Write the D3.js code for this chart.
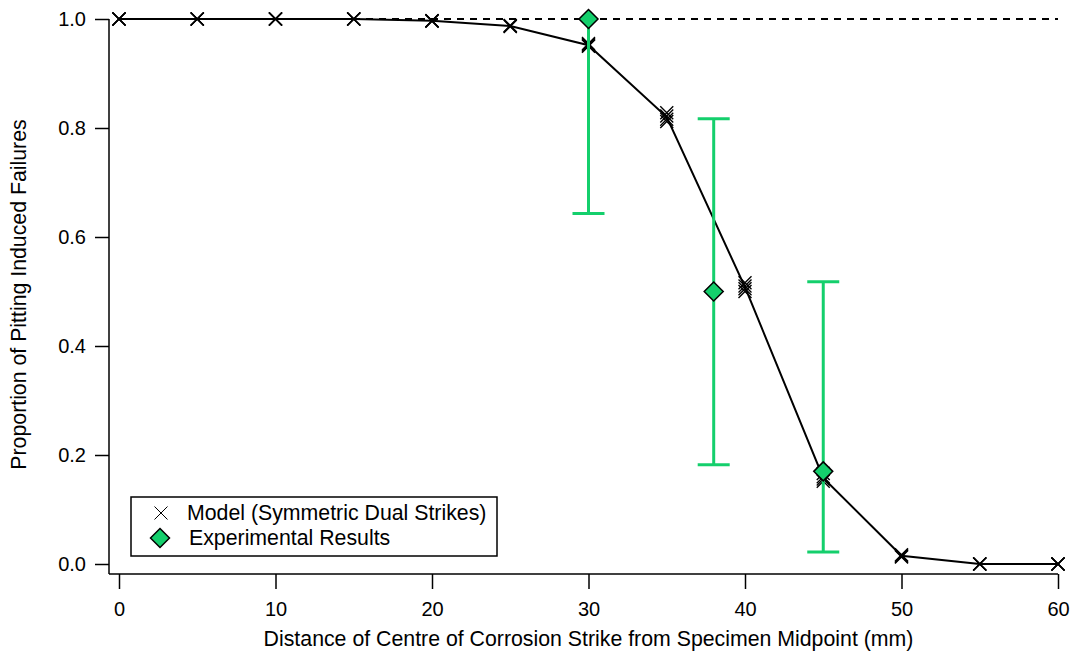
<!DOCTYPE html>
<html>
<head>
<meta charset="utf-8">
<script src="https://cdn.jsdelivr.net/npm/d3@7"></script>
<style>
  body { margin: 0; background: #fff; }
  svg { font-family: "Liberation Sans", Arial, sans-serif; }
</style>
</head>
<body>
<svg id="chart" width="1074" height="653"></svg>
<script>
// Model distances (mm)
const modelX = [0, 5, 10, 15, 20, 25, 30, 35, 40, 45, 50, 55, 60];
// Mean model proportion (line)
const modelMean = [1.0, 1.0, 1.0, 1.0, 0.997, 0.987, 0.952, 0.82, 0.508, 0.158, 0.015, 0.0, 0.0];
// Individual model runs (overlapping crosses)
const modelRuns = [
  [1.0, 1.0, 1.0, 1.0, 0.997, 0.988, 0.955, 0.828, 0.516, 0.166, 0.017, 0.0, 0.0],
  [1.0, 1.0, 1.0, 1.0, 0.997, 0.986, 0.950, 0.812, 0.500, 0.152, 0.013, 0.0, 0.0],
  [1.0, 1.0, 1.0, 1.0, 0.996, 0.987, 0.953, 0.822, 0.510, 0.160, 0.015, 0.0, 0.0],
  [1.0, 1.0, 1.0, 1.0, 0.997, 0.987, 0.951, 0.816, 0.505, 0.156, 0.014, 0.0, 0.0]
];

// Experimental results
const expX = [30, 38, 45];
const expY = [1.0, 0.5, 0.17];
const expLow = [0.643, 0.182, 0.022];
const expHigh = [1.0, 0.817, 0.518];

const xTicks = [0, 10, 20, 30, 40, 50, 60];
const yTicks = [0.0, 0.2, 0.4, 0.6, 0.8, 1.0];

const GREEN = "#14cf6c";
const TICK_FONT = "20px";
const LABEL_FONT = "21.3px";

const svg = d3.select("#chart");

const xScale = d3.scaleLinear().domain([0, 60]).range([119, 1058]);
const yScale = d3.scaleLinear().domain([0, 1]).range([564, 19]);

const axisX = 109;   // left axis position
const axisY = 574;   // bottom axis position

// Axis lines
svg.append("line")
  .attr("x1", axisX).attr("x2", axisX)
  .attr("y1", yScale(1)).attr("y2", axisY)
  .attr("stroke", "#000").attr("stroke-width", 1.5);
svg.append("line")
  .attr("x1", axisX).attr("x2", xScale(60))
  .attr("y1", axisY).attr("y2", axisY)
  .attr("stroke", "#000").attr("stroke-width", 1.5);

// Y axis
const yAxis = svg.append("g")
  .attr("transform", `translate(${axisX},0)`)
  .call(d3.axisLeft(yScale)
    .tickValues(yTicks)
    .tickFormat(d3.format(".1f"))
    .tickSize(14)
    .tickPadding(9));
yAxis.select(".domain").remove();
yAxis.selectAll(".tick line").attr("stroke-width", 1.5);
yAxis.selectAll(".tick text")
  .attr("font-size", TICK_FONT)
  .attr("font-family", "Liberation Sans, Arial, sans-serif")
  .attr("fill", "#000");

// X axis
const xAxis = svg.append("g")
  .attr("transform", `translate(0,${axisY})`)
  .call(d3.axisBottom(xScale)
    .tickValues(xTicks)
    .tickFormat(d3.format("d"))
    .tickSize(15)
    .tickPadding(13));
xAxis.select(".domain").remove();
xAxis.selectAll(".tick line").attr("stroke-width", 1.5);
xAxis.selectAll(".tick text")
  .attr("font-size", TICK_FONT)
  .attr("font-family", "Liberation Sans, Arial, sans-serif")
  .attr("fill", "#000");

// Axis titles
svg.append("text")
  .attr("x", (xScale(0) + xScale(60)) / 2)
  .attr("y", 646)
  .attr("text-anchor", "middle")
  .attr("font-size", LABEL_FONT)
  .text("Distance of Centre of Corrosion Strike from Specimen Midpoint (mm)");

svg.append("text")
  .attr("transform", `translate(26,${(yScale(0) + yScale(1)) / 2 + 3}) rotate(-90)`)
  .attr("text-anchor", "middle")
  .attr("font-size", LABEL_FONT)
  .text("Proportion of Pitting Induced Failures");

// Dashed reference line at 1.0
svg.append("line")
  .attr("x1", xScale(0)).attr("x2", xScale(60))
  .attr("y1", yScale(1)).attr("y2", yScale(1))
  .attr("stroke", "#000").attr("stroke-width", 2)
  .attr("stroke-dasharray", "7,6");

// Model line
const line = d3.line()
  .x((d, i) => xScale(modelX[i]))
  .y(d => yScale(d));
svg.append("path")
  .attr("d", line(modelMean))
  .attr("fill", "none")
  .attr("stroke", "#000")
  .attr("stroke-width", 2);

// Cross path helper
const crossPath = (cx, cy, r) =>
  `M${cx - r},${cy - r}L${cx + r},${cy + r}M${cx - r},${cy + r}L${cx + r},${cy - r}`;

// Model crosses
modelRuns.forEach(run => {
  svg.append("g")
    .selectAll("path")
    .data(run)
    .enter()
    .append("path")
      .attr("d", (d, i) => crossPath(xScale(modelX[i]), yScale(d), 6.5))
      .attr("stroke", "#000")
      .attr("stroke-width", 1.4)
      .attr("fill", "none");
});

// Error bars (no cap drawn at the 1.0 limit)
const capHalf = 16;
const errG = svg.append("g");
expX.forEach((x, i) => {
  const cx = xScale(x);
  errG.append("line")
    .attr("x1", cx).attr("x2", cx)
    .attr("y1", yScale(expLow[i])).attr("y2", yScale(expHigh[i]))
    .attr("stroke", GREEN).attr("stroke-width", 3);
  [expLow[i], expHigh[i]].filter(v => v < 1).forEach(v => {
    errG.append("line")
      .attr("x1", cx - capHalf).attr("x2", cx + capHalf)
      .attr("y1", yScale(v)).attr("y2", yScale(v))
      .attr("stroke", GREEN).attr("stroke-width", 3);
  });
});

// Diamonds
const diamond = (cx, cy, r) =>
  `M${cx},${cy - r}L${cx + r},${cy}L${cx},${cy + r}L${cx - r},${cy}Z`;

svg.append("g")
  .selectAll("path")
  .data(expY)
  .enter()
  .append("path")
    .attr("d", (d, i) => diamond(xScale(expX[i]), yScale(d), 9.5))
    .attr("fill", GREEN)
    .attr("stroke", "#000")
    .attr("stroke-width", 1.5);

// Legend
const legend = svg.append("g");
legend.append("rect")
  .attr("x", 131).attr("y", 497)
  .attr("width", 366).attr("height", 59)
  .attr("fill", "#fff")
  .attr("stroke", "#000")
  .attr("stroke-width", 1.5);
legend.append("path")
  .attr("d", crossPath(161, 513, 6.5))
  .attr("stroke", "#000").attr("stroke-width", 1);
legend.append("text")
  .attr("x", 187).attr("y", 520)
  .attr("font-size", LABEL_FONT)
  .text("Model (Symmetric Dual Strikes)");
legend.append("path")
  .attr("d", diamond(160, 538, 9.5))
  .attr("fill", GREEN)
  .attr("stroke", "#000").attr("stroke-width", 1.5);
legend.append("text")
  .attr("x", 189).attr("y", 545)
  .attr("font-size", LABEL_FONT)
  .text("Experimental Results");
</script>
</body>
</html>
